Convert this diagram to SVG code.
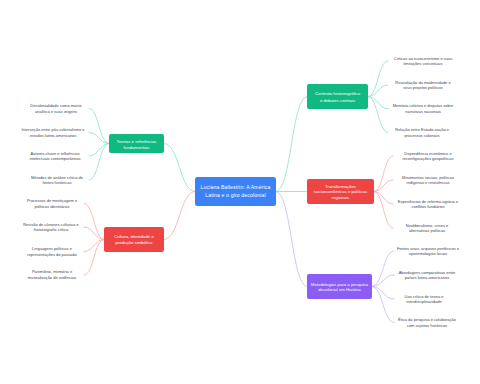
<svg xmlns="http://www.w3.org/2000/svg" width="480" height="384" viewBox="0 0 480 384">
<style>
.bg{fill:#ffffff}
.c{fill:none;stroke-width:0.8;stroke-linecap:round}
.cg{stroke:#86e3c0}
.cr{stroke:#f8a9a9}
.cp{stroke:#c6b8fb}
.n{font-family:"Liberation Sans",Arial,sans-serif;fill:#ffffff;text-anchor:middle}
.nt{font-size:4.3px}
.ct{font-size:5.1px;letter-spacing:0.15px}
.l{font-family:"Liberation Sans",Arial,sans-serif;font-size:4px;fill:#3f4652;text-anchor:middle}
</style>
<rect class="bg" x="0" y="0" width="480" height="384"/>
<g id="connectors">
  <path class="c cg" d="M195,191.5 C179.5,191.5 179.5,143.5 164,143.5"/>
  <path class="c cr" d="M195,191.5 C179.5,191.5 179.5,239.5 164,239.5"/>
  <path class="c cg" d="M276,191.5 C291.5,191.5 291.5,96.5 307,96.5"/>
  <path class="c cr" d="M276,191.5 L307,191.5"/>
  <path class="c cp" d="M276,191.5 C291.5,191.5 291.5,286.5 307,286.5"/>
  <path class="c cg" d="M109,143.5 C99,143.5 99,108.5 89,108.5"/>
  <path class="c cg" d="M109,143.5 C99,143.5 99,132.5 89,132.5"/>
  <path class="c cg" d="M109,143.5 C99,143.5 99,156 89,156"/>
  <path class="c cg" d="M109,143.5 C99,143.5 99,180 89,180"/>
  <path class="c cr" d="M104,239.5 C94,239.5 94,203.5 84,203.5"/>
  <path class="c cr" d="M104,239.5 C94,239.5 94,227 84,227"/>
  <path class="c cr" d="M104,239.5 C94,239.5 94,251.5 84,251.5"/>
  <path class="c cr" d="M104,239.5 C94,239.5 94,275 84,275"/>
  <path class="c cg" d="M368,96.5 C378,96.5 378,61 388,61"/>
  <path class="c cg" d="M368,96.5 C378,96.5 378,85 388,85"/>
  <path class="c cg" d="M368,96.5 C378,96.5 378,108.7 388,108.7"/>
  <path class="c cg" d="M368,96.5 C378,96.5 378,132.5 388,132.5"/>
  <path class="c cr" d="M374,191.5 C383.5,191.5 383.5,156 393,156"/>
  <path class="c cr" d="M374,191.5 C383.5,191.5 383.5,180 393,180"/>
  <path class="c cr" d="M374,191.5 C383.5,191.5 383.5,204 393,204"/>
  <path class="c cr" d="M374,191.5 C383.5,191.5 383.5,228 393,228"/>
  <path class="c cp" d="M372,286.5 C383,286.5 383,251 394,251"/>
  <path class="c cp" d="M372,286.5 C383,286.5 383,275 394,275"/>
  <path class="c cp" d="M372,286.5 C383,286.5 383,299 394,299"/>
  <path class="c cp" d="M372,286.5 C383,286.5 383,322.5 394,322.5"/>
</g>
<g id="center">
  <rect x="195" y="177" width="81" height="29" rx="2.5" fill="#3b82f6"/>
  <text class="n ct" x="235.5" y="189">Luciana Ballestrin: A América</text>
  <text class="n ct" x="235.5" y="196.7">Latina e o giro decolonial</text>
</g>
<g id="b-teorias">
  <rect x="109" y="134" width="55" height="19" rx="2" fill="#10b981"/>
  <text class="n nt" x="136.5" y="143.2">Teorias e referências</text>
  <text class="n nt" x="136.5" y="148.8">fundamentais</text>
</g>
<g id="b-cultura">
  <rect x="104" y="227" width="60" height="25" rx="2" fill="#ef4444"/>
  <text class="n nt" x="134" y="237.5">Cultura, identidade e</text>
  <text class="n nt" x="134" y="243.8">produção simbólica</text>
</g>
<g id="b-contexto">
  <rect x="307" y="84" width="61" height="25" rx="2" fill="#10b981"/>
  <text class="n nt" x="337.5" y="95.2">Contexto historiográfico</text>
  <text class="n nt" x="337.5" y="101.5">e debates centrais</text>
</g>
<g id="b-transf">
  <rect x="307" y="179" width="67" height="25" rx="2" fill="#ef4444"/>
  <text class="n nt" x="340.5" y="187.5">Transformações</text>
  <text class="n nt" x="340.5" y="193.2">socioeconômicas e políticas</text>
  <text class="n nt" x="340.5" y="198.8">regionais</text>
</g>
<g id="b-metod">
  <rect x="307" y="274" width="65" height="25" rx="2" fill="#8b5cf6"/>
  <text class="n nt" x="339.5" y="285.8">Metodologias para a pesquisa</text>
  <text class="n nt" x="339.5" y="291">decolonial em História</text>
</g>
<g id="leaf-t1"><text class="l" x="56" y="107.1">Decolonialidade como matriz<tspan x="56" dy="5.4">analítica e suas origens</tspan></text></g>
<g id="leaf-t2"><text class="l" x="53" y="131.2">Interseção entre pós-colonialismo e<tspan x="53" dy="5.4">estudos latino-americanos</tspan></text></g>
<g id="leaf-t3"><text class="l" x="55" y="154.7">Autores-chave e influências<tspan x="55" dy="5.4">intelectuais contemporâneas</tspan></text></g>
<g id="leaf-t4"><text class="l" x="57" y="178.7">Métodos de análise crítica de<tspan x="57" dy="5.4">fontes históricas</tspan></text></g>
<g id="leaf-c1"><text class="l" x="52" y="202.4">Processos de mestiçagem e<tspan x="52" dy="5.4">políticas identitárias</tspan></text></g>
<g id="leaf-c2"><text class="l" x="51" y="225.8">Revisão de cânones culturais e<tspan x="51" dy="5.4">historiografia crítica</tspan></text></g>
<g id="leaf-c3"><text class="l" x="52" y="250.2">Linguagens políticas e<tspan x="52" dy="5.4">representações do passado</tspan></text></g>
<g id="leaf-c4"><text class="l" x="52" y="273.4">Patrimônio, memória e<tspan x="52" dy="5.4">musealização de violências</tspan></text></g>
<g id="leaf-h1"><text class="l" x="423" y="59.6">Críticas ao eurocentrismo e suas<tspan x="423" dy="5.4">limitações conceituais</tspan></text></g>
<g id="leaf-h2"><text class="l" x="423" y="83.6">Reavaliação da modernidade e<tspan x="423" dy="5.4">seus projetos políticos</tspan></text></g>
<g id="leaf-h3"><text class="l" x="423" y="107.3">Memória coletiva e disputas sobre<tspan x="423" dy="5.4">narrativas nacionais</tspan></text></g>
<g id="leaf-h4"><text class="l" x="422" y="131.2">Relação entre Estado-nação e<tspan x="422" dy="5.4">processos coloniais</tspan></text></g>
<g id="leaf-s1"><text class="l" x="428" y="154.8">Dependência econômica e<tspan x="428" dy="5.4">reconfigurações geopolíticas</tspan></text></g>
<g id="leaf-s2"><text class="l" x="428" y="178.6">Movimentos sociais, políticas<tspan x="428" dy="5.4">indígenas e resistências</tspan></text></g>
<g id="leaf-s3"><text class="l" x="428" y="202.6">Experiências de reforma agrária e<tspan x="428" dy="5.4">conflitos fundiários</tspan></text></g>
<g id="leaf-s4"><text class="l" x="427" y="226.6">Neoliberalismo, crises e<tspan x="427" dy="5.4">alternativas políticas</tspan></text></g>
<g id="leaf-m1"><text class="l" x="428" y="249.8">Fontes orais, arquivos periféricos e<tspan x="428" dy="5.4">epistemologias locais</tspan></text></g>
<g id="leaf-m2"><text class="l" x="427" y="273.8">Abordagens comparativas entre<tspan x="427" dy="5.4">países latino-americanos</tspan></text></g>
<g id="leaf-m3"><text class="l" x="424" y="297.7">Uso crítico de teoria e<tspan x="424" dy="5.4">interdisciplinaridade</tspan></text></g>
<g id="leaf-m4"><text class="l" x="427" y="321.2">Ética da pesquisa e colaboração<tspan x="427" dy="5.4">com sujeitos históricos</tspan></text></g>
</svg>
